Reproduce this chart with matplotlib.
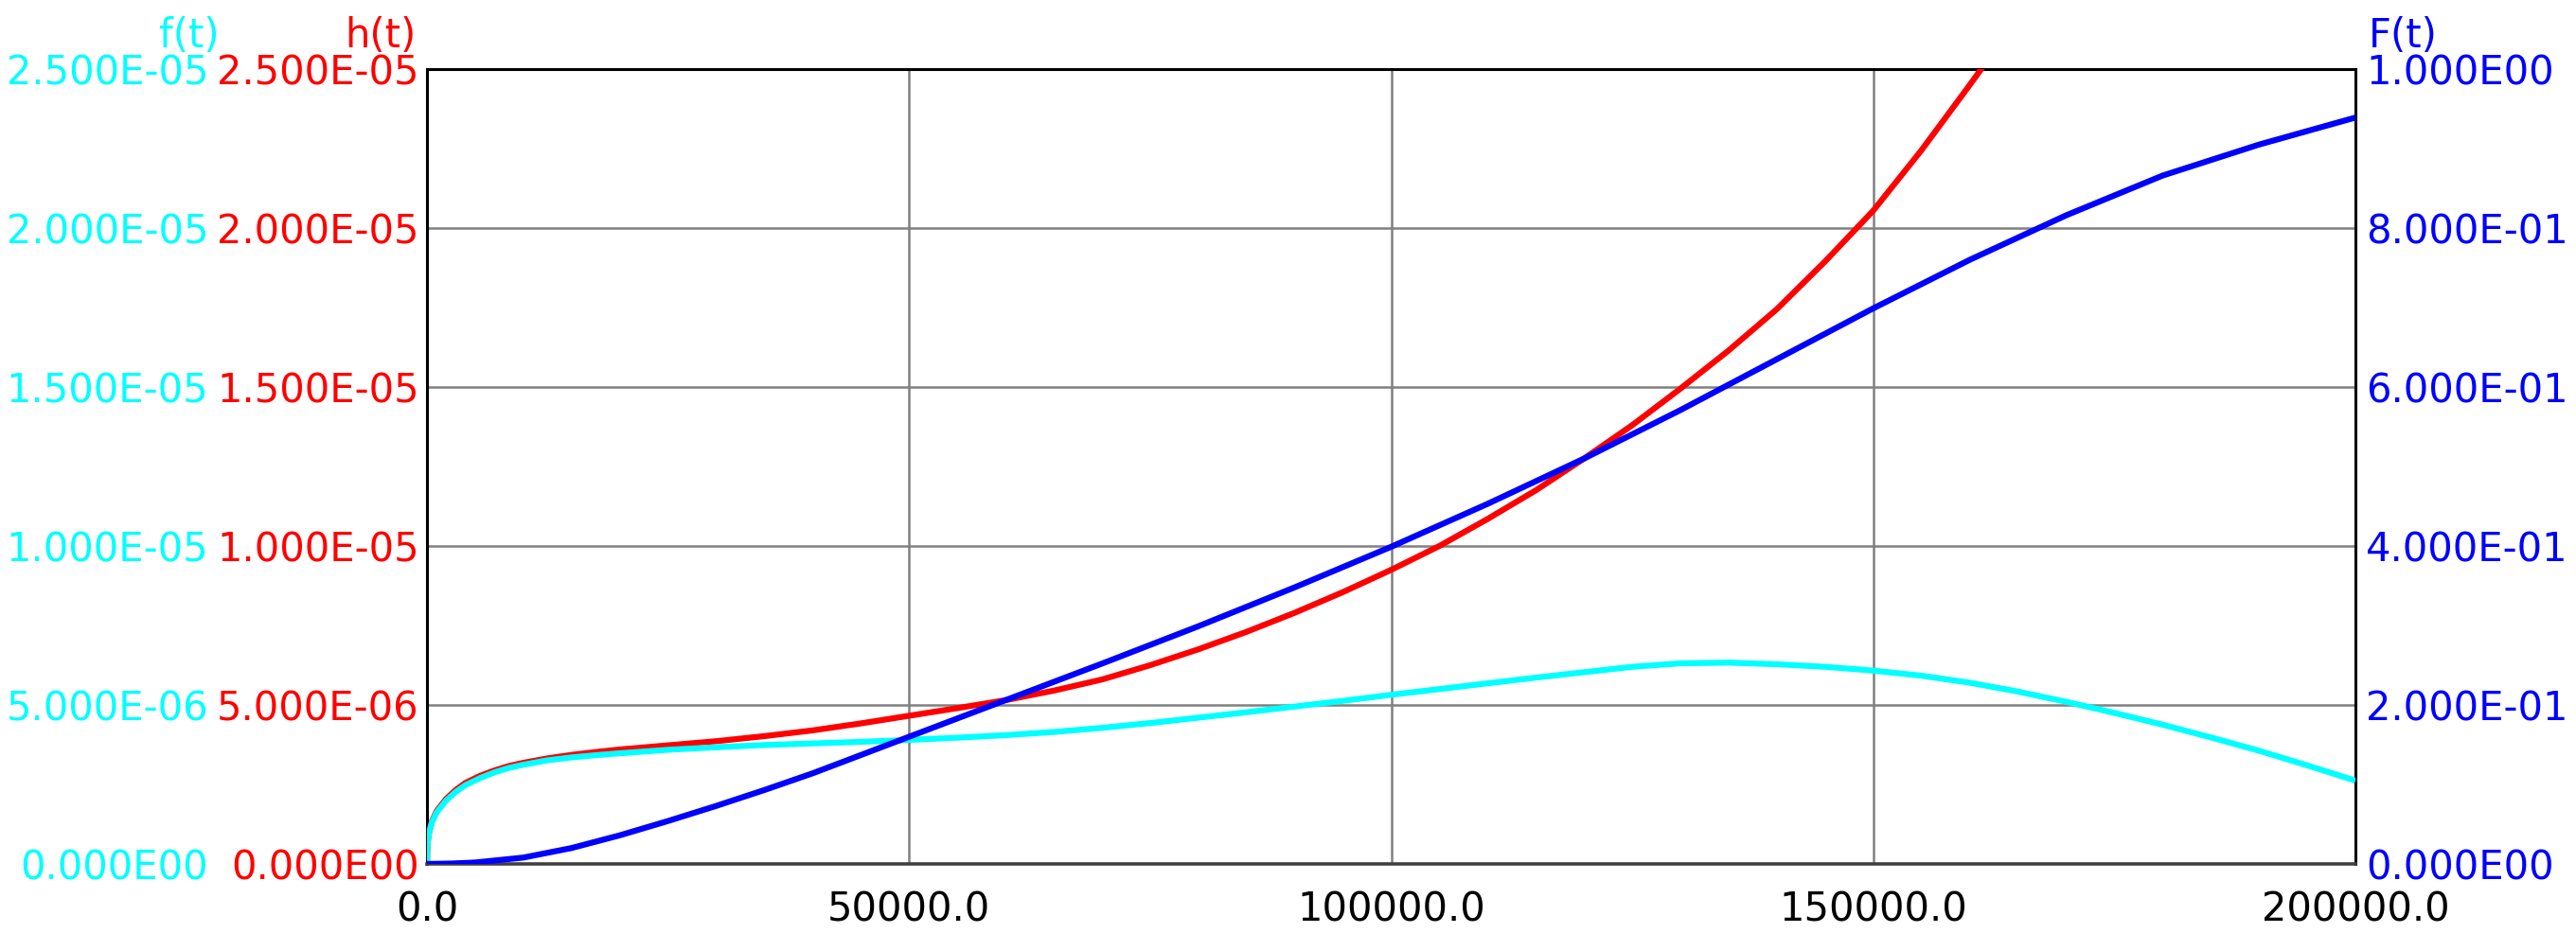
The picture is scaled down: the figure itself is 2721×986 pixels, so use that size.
import matplotlib
matplotlib.use("Agg")
import matplotlib.pyplot as plt

# ---- data ----
t_h = [0, 50, 200, 500, 1000, 2000, 3000, 4000, 5500, 7000, 8500, 10000, 12500,
       15000, 17500, 20000, 25000, 30000, 35000, 40000, 45000, 50000, 55000, 60000,
       65000, 70000, 75000, 80000, 85000, 90000, 95000, 100000, 105000, 110000,
       115000, 120000, 125000, 130000, 135000, 140000, 145000, 150000, 155000,
       160000, 165000]
h_vals = [0.0, 0.62e-6, 0.97e-6, 1.33e-6, 1.66e-6, 2.05e-6, 2.33e-6, 2.55e-6,
          2.77e-6, 2.94e-6, 3.08e-6, 3.18e-6, 3.32e-6, 3.43e-6, 3.52e-6, 3.6e-6,
          3.73e-6, 3.86e-6, 4.02e-6, 4.2e-6, 4.42e-6, 4.66e-6, 4.9e-6, 5.15e-6,
          5.45e-6, 5.8e-6, 6.25e-6, 6.75e-6, 7.3e-6, 7.9e-6, 8.55e-6, 9.25e-6,
          1.0e-5, 1.085e-5, 1.175e-5, 1.275e-5, 1.38e-5, 1.495e-5, 1.615e-5, 1.745e-5,
          1.895e-5, 2.055e-5, 2.245e-5, 2.45e-5, 2.66e-5]

t_f = [0, 50, 200, 500, 1000, 2000, 3000, 4000, 5500, 7000, 8500, 10000, 12500,
       15000, 17500, 20000, 25000, 30000, 35000, 40000, 45000, 50000, 55000, 60000,
       65000, 70000, 75000, 80000, 85000, 90000, 95000, 100000, 105000, 110000,
       115000, 120000, 125000, 130000, 135000, 140000, 145000, 150000, 155000,
       160000, 165000, 170000, 175000, 180000, 185000, 190000, 195000, 200000]
f_vals = [0.0, 0.6e-6, 0.95e-6, 1.3e-6, 1.62e-6, 2.0e-6, 2.27e-6, 2.48e-6,
          2.7e-6, 2.88e-6, 3.02e-6, 3.12e-6, 3.26e-6, 3.35e-6, 3.42e-6, 3.48e-6,
          3.59e-6, 3.67e-6, 3.74e-6, 3.79e-6, 3.84e-6, 3.9e-6, 3.97e-6, 4.05e-6,
          4.15e-6, 4.28e-6, 4.43e-6, 4.6e-6, 4.77e-6, 4.95e-6, 5.13e-6, 5.32e-6,
          5.5e-6, 5.68e-6, 5.86e-6, 6.03e-6, 6.2e-6, 6.31e-6, 6.33e-6, 6.28e-6,
          6.2e-6, 6.08e-6, 5.92e-6, 5.7e-6, 5.42e-6, 5.1e-6, 4.75e-6, 4.38e-6,
          3.98e-6, 3.56e-6, 3.1e-6, 2.62e-6]

t_F = [0, 2500, 5000, 10000, 15000, 20000, 25000, 30000, 35000, 40000, 45000,
       50000, 55000, 60000, 70000, 80000, 90000, 100000, 110000, 120000, 130000,
       140000, 150000, 160000, 170000, 180000, 190000, 200000]
F_vals = [0.0, 0.0005, 0.0018, 0.008, 0.02, 0.036, 0.054, 0.073, 0.093, 0.114,
          0.137, 0.16, 0.183, 0.206, 0.252, 0.299, 0.348, 0.399, 0.453, 0.51,
          0.571, 0.635, 0.699, 0.76, 0.816, 0.866, 0.905, 0.939]

x_ticks = [0, 50000, 100000, 150000, 200000]
x_labels = ["0.0", "50000.0", "100000.0", "150000.0", "200000.0"]
hf_ticks = [0, 5e-6, 1e-5, 1.5e-5, 2e-5, 2.5e-5]
hf_labels = ["0.000E00", "5.000E-06", "1.000E-05", "1.500E-05", "2.000E-05", "2.500E-05"]
F_ticks = [0, 0.2, 0.4, 0.6, 0.8, 1.0]
F_labels = ["0.000E00", "2.000E-01", "4.000E-01", "6.000E-01", "8.000E-01", "1.000E00"]

CYAN, RED, BLUE = "#00FFFF", "#FF0000", "#0000FF"

W, H = 2721, 986
fig = plt.figure(figsize=(W / 100, H / 100), dpi=100)
L, R, T, B = 451, 2488, 73, 913
pos = [L / W, 1 - B / H, (R - L) / W, (B - T) / H]
FS = 30
LW = 4.5

ax = fig.add_axes(pos)
ax.set_xlim(0, 200000)
ax.set_ylim(0, 2.5e-5)
ax.set_xticks(x_ticks)
ax.set_xticklabels(x_labels)
ax.set_yticks(hf_ticks)
ax.set_yticklabels(hf_labels)
ax.tick_params(axis="both", length=0, labelsize=FS)
ax.tick_params(axis="y", pad=6, labelcolor=RED)
ax.tick_params(axis="x", pad=20, labelcolor="black")
ax.grid(True, color="#808080", lw=1.8)
ax.set_axisbelow(True)
for s in ["left", "top", "right"]:
    ax.spines[s].set_color("black")
    ax.spines[s].set_linewidth(2.2)
ax.spines["bottom"].set_color("#404040")
ax.spines["bottom"].set_linewidth(2.6)

ax.plot(t_h, h_vals, color=RED, lw=LW, zorder=3, solid_capstyle="butt")
ax.plot(t_f, f_vals, color=CYAN, lw=LW, zorder=4, solid_capstyle="butt")

# F(t) axis (right)
axF = ax.twinx()
axF.set_ylim(0, 1.0)
axF.set_yticks(F_ticks)
axF.set_yticklabels(F_labels)
axF.tick_params(axis="y", length=0, labelsize=FS, labelcolor=BLUE, pad=8)
for s in axF.spines.values():
    s.set_visible(False)
axF.plot(t_F, F_vals, color=BLUE, lw=LW, zorder=5, solid_capstyle="butt")

# f(t) axis (outer left)
axf = ax.twinx()
axf.set_ylim(0, 2.5e-5)
axf.yaxis.set_ticks_position("left")
axf.yaxis.set_label_position("left")
axf.spines["left"].set_position(("outward", 231 * 0.72))
axf.set_yticks(hf_ticks)
axf.set_yticklabels(hf_labels)
axf.tick_params(axis="y", length=0, labelsize=FS, labelcolor=CYAN, pad=0)
for s in axf.spines.values():
    s.set_visible(False)
axf.set_zorder(-1)

# axis titles
fig.text(232 / W, 1 - 38 / H, "f(t)", color=CYAN, fontsize=FS, ha="right", va="center")
fig.text(440 / W, 1 - 38 / H, "h(t)", color=RED, fontsize=FS, ha="right", va="center")
fig.text(2502 / W, 1 - 38 / H, "F(t)", color=BLUE, fontsize=FS, ha="left", va="center")

fig.savefig("out.png", dpi=100)
